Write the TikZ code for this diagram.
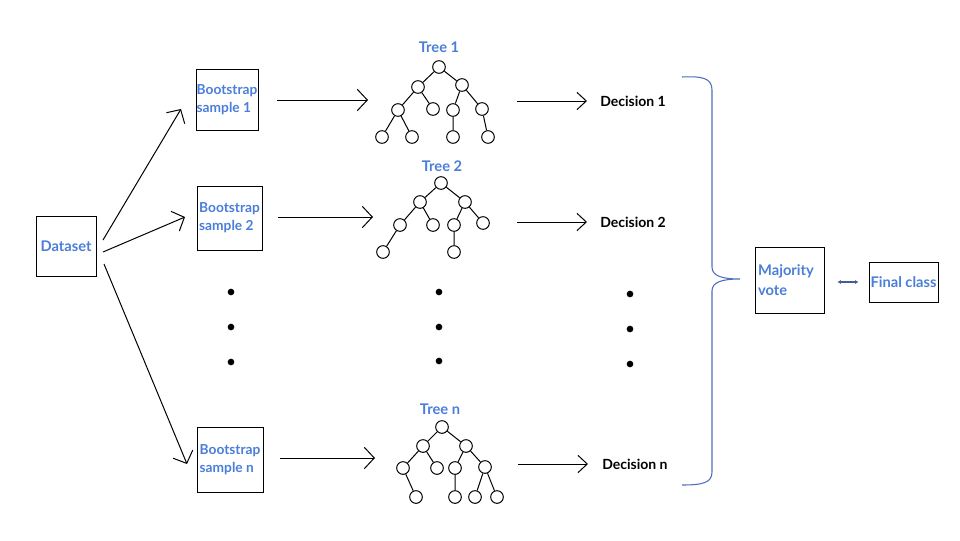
\documentclass[tikz,border=0pt]{standalone}
\usepackage{fontspec}
\setmainfont{Lato}
\usetikzlibrary{arrows.meta}
\definecolor{tblue}{RGB}{74,126,218}
\definecolor{brblue}{RGB}{80,110,190}
\definecolor{dblue}{RGB}{70,90,150}
\begin{document}
\begin{tikzpicture}[x=0.75pt,y=-0.75pt,
  lbl/.style={font=\fontsize{11}{14.5}\selectfont\bfseries, text=tblue},
  box/.style={draw, line width=0.7pt, inner sep=1pt, align=left, lbl},
  bsbox/.style={box, font=\fontsize{10.3}{13.5}\selectfont\bfseries, inner sep=0.5pt},
  tn/.style={circle, draw, fill=white, line width=0.75pt, minimum size=9.5pt, inner sep=0pt},
  te/.style={line width=0.75pt},
  arr/.style={line width=0.75pt, -{Straight Barb[length=7.5pt,width=16pt,line width=0.75pt]}},
  darr/.style={line width=0.75pt, -{Straight Barb[length=7pt,width=13pt,line width=0.75pt]}},
  dec/.style={font=\fontsize{10.5}{12}\selectfont\bfseries, anchor=west, inner sep=0pt},
  dot/.style={circle, fill=black, minimum size=5pt, inner sep=0pt}]
\useasboundingbox (0,0) rectangle (960,540);
\fill[white] (0,0) rectangle (960,540);

% boxes
\node[box, minimum width=45pt, minimum height=45pt, inner sep=0.5pt] (ds) at (66,246) {Dataset};
\node[bsbox, minimum width=46.5pt, minimum height=45.75pt] (b1) at (227,99.5) {Bootstrap\\sample 1};
\node[bsbox, minimum width=48.75pt, minimum height=48pt] (b2) at (229.5,218) {Bootstrap\\sample 2};
\node[bsbox, minimum width=49.5pt, minimum height=48.75pt] (bn) at (230,459.5) {Bootstrap\\sample n};
\node[box, minimum width=51.75pt, minimum height=49.5pt, text width=47pt, inner sep=2pt] (mv) at (789.5,280) {Majority\\vote};
\node[box, minimum width=51.75pt, minimum height=30pt, inner sep=0.5pt] (fc) at (903.5,282) {Final class};

% dataset arrows
\coordinate (d1s) at (103,240); \coordinate (d1e) at (181,109);
\coordinate (d2s) at (103,252); \coordinate (d2e) at (185,217);
\coordinate (d3s) at (104,264); \coordinate (d3e) at (187,464);
\draw[arr] (d1s) -- (d1e);
\draw[arr] (d2s) -- (d2e);
\draw[arr] (d3s) -- (d3e);

% box to tree arrows
\coordinate (r1s) at (277,100); \coordinate (r1e) at (368,100);
\coordinate (r2s) at (278,217); \coordinate (r2e) at (373,217);
\coordinate (rns) at (280,458); \coordinate (rne) at (375,458);
\draw[arr] (r1s) -- (r1e);
\draw[arr] (r2s) -- (r2e);
\draw[arr] (rns) -- (rne);

% Tree 1
\node[lbl] (t1) at (439,47) {Tree 1};
\node[tn] (a0) at (439,67) {};
\node[tn] (a1) at (418,87) {};
\node[tn] (a2) at (462,85) {};
\node[tn] (a3) at (398,110) {};
\node[tn] (a4) at (433,109) {};
\node[tn] (a5) at (453,110) {};
\node[tn] (a6) at (482,109) {};
\node[tn] (a7) at (382,137) {};
\node[tn] (a8) at (412,137) {};
\node[tn] (a9) at (453,137) {};
\node[tn] (a10) at (488,137) {};
\draw[te] (a0)--(a1) (a0)--(a2) (a1)--(a3) (a1)--(a4) (a2)--(a5) (a2)--(a6)
  (a3)--(a7) (a3)--(a8) (a5)--(a9) (a6)--(a10);

% Tree 2
\node[lbl] (t2) at (442,166) {Tree 2};
\node[tn] (b0) at (441,183) {};
\node[tn] (bb1) at (420,202) {};
\node[tn] (bb2) at (465,202) {};
\node[tn] (bb3) at (400,225) {};
\node[tn] (bb4) at (433,225) {};
\node[tn] (bb5) at (454,225) {};
\node[tn] (bb6) at (483,223) {};
\node[tn] (bb7) at (383,252) {};
\node[tn] (bb8) at (454,252) {};
\draw[te] (b0)--(bb1) (b0)--(bb2) (bb1)--(bb3) (bb1)--(bb4) (bb2)--(bb5) (bb2)--(bb6)
  (bb3)--(bb7) (bb5)--(bb8);

% Tree n
\node[lbl] (tn) at (440,409) {Tree n};
\node[tn] (c0) at (442,427) {};
\node[tn] (c1) at (423,446) {};
\node[tn] (c2) at (466,446) {};
\node[tn] (c3) at (403,468) {};
\node[tn] (c4) at (437,468) {};
\node[tn] (c5) at (455,468) {};
\node[tn] (c6) at (485,467) {};
\node[tn] (c7) at (416,497) {};
\node[tn] (c8) at (455,497) {};
\node[tn] (c9) at (475,497) {};
\node[tn] (c10) at (497,497) {};
\draw[te] (c0)--(c1) (c0)--(c2) (c1)--(c3) (c1)--(c4) (c2)--(c5) (c2)--(c6)
  (c3)--(c7) (c5)--(c8) (c6)--(c9) (c6)--(c10);

% decisions
\coordinate (e1s) at (517,101); \coordinate (e1e) at (587,101);
\coordinate (e2s) at (517,222); \coordinate (e2e) at (587,222);
\coordinate (ens) at (518,464); \coordinate (ene) at (588,464);
\draw[darr] (e1s) -- (e1e);
\draw[darr] (e2s) -- (e2e);
\draw[darr] (ens) -- (ene);
\node[dec] (dc1) at (600,101) {Decision 1};
\node[dec] (dc2) at (600,222) {Decision 2};
\node[dec] (dcn) at (602,464) {Decision n};

% dots
\foreach \i/\x/\y in {1/231/292, 2/231/327, 3/231/362,
                      4/439/292, 5/439/327, 6/439/361,
                      7/630/294, 8/630/329, 9/630/364}
  \node[dot] (dot\i) at (\x,\y) {};

% brace
\draw[brblue, line width=0.8pt] (682,77) .. controls (702,76) and (712,78) .. (712,90)
  -- (712,267) .. controls (712,276) and (722,279) .. (740,279)
  .. controls (722,279) and (712,282) .. (712,291)
  -- (712,472) .. controls (712,483) and (702,485) .. (682,485);

% double arrow
\draw[dblue, line width=1pt, {Latex[length=2.5pt,width=3pt]}-{Latex[length=2.5pt,width=3pt]}] (mv.east) ++(13,2) coordinate (da1) -- ++(21,0) coordinate (da2);
\end{tikzpicture}
\end{document}
